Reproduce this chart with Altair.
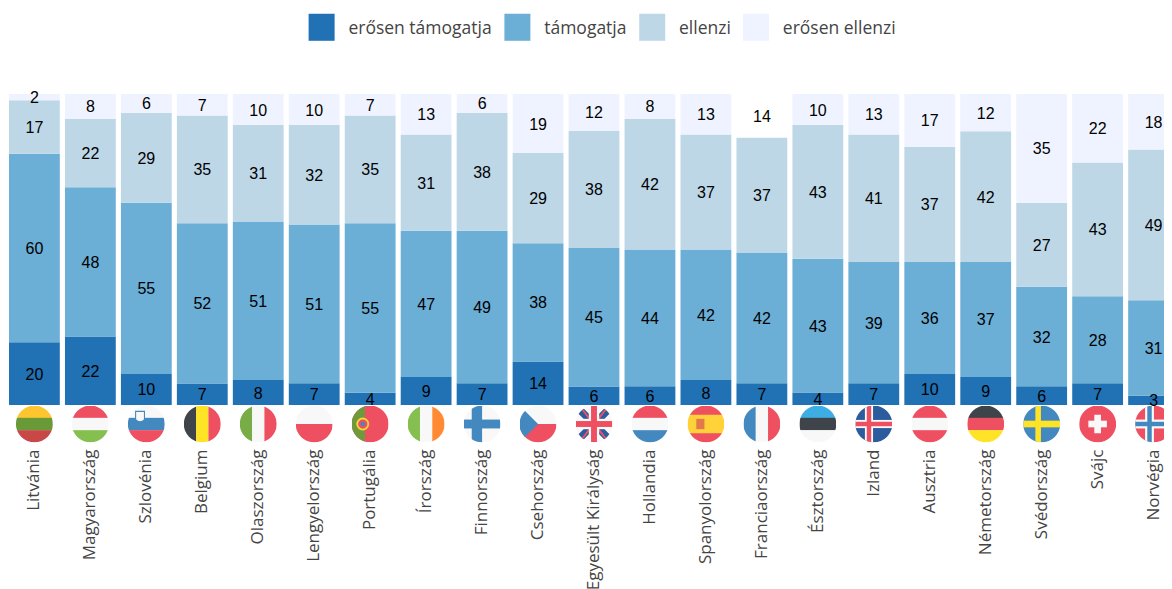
import base64
import altair as alt
import pandas as pd

orszagok = ["Litvánia", "Magyarország", "Szlovénia", "Belgium", "Olaszország", "Lengyelország", "Portugália",
            "Írország", "Finnország", "Csehország", "Egyesült Királyság", "Hollandia", "Spanyolország",
            "Franciaország", "Észtország", "Izland", "Ausztria", "Németország", "Svédország", "Svájc", "Norvégia"]
kategoriak = ["erősen támogatja", "támogatja", "ellenzi", "erősen ellenzi"]
erosen_tamogatja = [20, 22, 10, 7, 8, 7, 4, 9, 7, 14, 6, 6, 8, 7, 4, 7, 10, 9, 6, 7, 3]
tamogatja = [60, 48, 55, 52, 51, 51, 55, 47, 49, 38, 45, 44, 42, 42, 43, 39, 36, 37, 32, 28, 31]
ellenzi = [17, 22, 29, 35, 31, 32, 35, 31, 38, 29, 38, 42, 37, 37, 43, 41, 37, 42, 27, 43, 49]
erosen_ellenzi = [2, 8, 6, 7, 10, 10, 7, 13, 6, 19, 12, 8, 13, 14, 10, 13, 17, 12, 35, 22, 18]
szinek = ["#2171b5", "#6baed6", "#bdd7e7", "#eff3ff"]

R, W, G, B, Y, D = "#ef5061", "#f8f8f8", "#84bf4f", "#4389c0", "#ffe327", "#3f444a"


def sav_v(*c):
    h = 100 / len(c)
    return "".join(f'<rect x="0" y="{i*h}" width="100" height="{h+.5}" fill="{k}"/>' for i, k in enumerate(c))


def sav_f(*c):
    h = 100 / len(c)
    return "".join(f'<rect y="0" x="{i*h}" height="100" width="{h+.5}" fill="{k}"/>' for i, k in enumerate(c))


def kereszt(h, k, b=None, s=None, vx=27, vt=10, ht=10):
    o = f'<rect width="100" height="100" fill="{h}"/>'
    if b:
        o += f'<rect x="{vx+vt/2-s/2}" y="0" width="{s}" height="100" fill="{b}"/><rect x="0" y="{50-s/2}" width="100" height="{s}" fill="{b}"/>'
    o += f'<rect x="{vx}" y="0" width="{vt}" height="100" fill="{k}"/><rect x="0" y="{50-ht/2}" width="100" height="{ht}" fill="{k}"/>'
    return o


uk = ('<rect width="100" height="100" fill="#f8f8f8"/>'
      '<path d="M0,0L40,40M100,0L60,40M0,100L40,60M100,100L60,60" stroke="#2b5c9e" stroke-width="20"/>'
      '<path d="M10,0L45,45M90,0L55,45M10,100L45,55M90,100L55,55" stroke="#ef5061" stroke-width="5"/>'
      '<rect x="36" width="28" height="100" fill="#f8f8f8"/><rect y="36" width="100" height="28" fill="#f8f8f8"/>'
      '<rect x="42" width="16" height="100" fill="#ef5061"/><rect y="42" width="100" height="16" fill="#ef5061"/>')

zaszlok = {
    "Litvánia": sav_v("#fdc52f", "#6a9a38", "#c84848"),
    "Magyarország": sav_v(R, W, G),
    "Szlovénia": sav_v(W, B, R) + '<path d="M21,16h24v22q-12,12-24,0z" fill="#f8f8f8" stroke="#4389c0" stroke-width="3"/>',
    "Belgium": sav_f(D, Y, R),
    "Olaszország": sav_f("#78ac46", W, R),
    "Lengyelország": sav_v(W, R),
    "Portugália": '<rect width="100" height="100" fill="#ef5061"/><rect width="36" height="100" fill="#6f9a3c"/><circle cx="30" cy="50" r="15" fill="#ef5061" stroke="#ffd23a" stroke-width="5"/><circle cx="30" cy="50" r="6" fill="#4389c0"/>',
    "Írország": sav_f(G, W, "#ff8a33"),
    "Finnország": kereszt(W, B, vx=22, vt=28, ht=24),
    "Csehország": sav_v(W, R) + '<path d="M0,0L50,50L0,100Z" fill="#4389c0"/>',
    "Egyesült Királyság": uk,
    "Hollandia": sav_v(R, W, B),
    "Spanyolország": '<rect width="100" height="100" fill="#ffd23a"/><rect width="100" height="25" fill="#ef5061"/><rect y="75" width="100" height="25" fill="#ef5061"/><rect x="24" y="36" width="22" height="28" fill="#e2794a"/>',
    "Franciaország": sav_f(B, W, R),
    "Észtország": sav_v("#3eade3", D, W),
    "Izland": kereszt("#2b5c9e", R, W, 22, vx=31, vt=12, ht=12),
    "Ausztria": sav_v(R, W, R),
    "Németország": sav_v(D, R, Y),
    "Svédország": kereszt(B, Y, vx=33, vt=15, ht=18),
    "Svájc": '<rect width="100" height="100" fill="#ef5061"/><rect x="41" y="25" width="18" height="50" fill="#f8f8f8"/><rect x="25" y="41" width="50" height="18" fill="#f8f8f8"/>',
    "Norvégia": kereszt(R, B, W, 24, vx=33, vt=12, ht=12),
}


def kep(belso):
    svg = ('<svg xmlns="http://www.w3.org/2000/svg" width="100" height="100" viewBox="0 0 100 100">'
           '<clipPath id="c"><circle cx="50" cy="50" r="50"/></clipPath>'
           f'<g clip-path="url(#c)">{belso}</g></svg>')
    return "data:image/svg+xml;base64," + base64.b64encode(svg.encode()).decode()


sorok = []
for i, o in enumerate(orszagok):
    ertekek = [erosen_tamogatja[i], tamogatja[i], ellenzi[i], erosen_ellenzi[i]]
    for r, (k, v) in enumerate(zip(kategoriak, ertekek)):
        sorok.append({"orszag": o, "kategoria": k, "rend": r, "ertek": v})
df = pd.DataFrame(sorok)
zaszlo_df = pd.DataFrame({"orszag": orszagok, "kep": [kep(zaszlok[o]) for o in orszagok]})

H = 311
x_skala = alt.Scale(paddingInner=0.092, paddingOuter=0.018, range=[0, 1172])
x = alt.X("orszag:N", sort=orszagok, title=None, scale=x_skala,
          axis=alt.Axis(labelAngle=-90, labelFont="Open Sans", labelFontSize=17, labelColor="#444444",
                        labelPadding=44, labelLimit=400, domain=False, ticks=False, grid=False))
y_skala = alt.Scale(domain=[0, 1], nice=False, zero=False)

alap = alt.Chart(df).transform_stack(stack="ertek", as_=["y0", "y1"], groupby=["orszag"], offset="normalize",
                                     sort=[alt.SortField("rend", order="ascending")]).transform_calculate(
    kozep="(datum.y0 + datum.y1) / 2")

oszlopok = alap.mark_bar(strokeWidth=0).encode(
    x=x,
    y=alt.Y("y0:Q", scale=y_skala, axis=None, title=None),
    y2="y1:Q",
    color=alt.condition(
        "datum.orszag === 'Franciaország' && datum.kategoria === 'erősen ellenzi'",
        alt.value("#ffffff"),
        alt.Color("kategoria:N", sort=kategoriak,
                  scale=alt.Scale(domain=kategoriak, range=szinek),
                  legend=alt.Legend(title=None, orient="none", direction="horizontal", columns=4,
                                    legendX=300.6, legendY=-78, columnPadding=11.8,
                                    symbolType="M-1,-1.19H1V0.89H-1Z", symbolSize=676,
                                    symbolStrokeWidth=0, symbolOpacity=1, labelOffset=13.8,
                                    labelFont="Open Sans", labelFontSize=17.5, labelColor="#444444",
                                    labelLimit=300)),
    ),
)

feliratok = alap.mark_text(font="Liberation Sans", fontSize=16, color="#000000", baseline="middle", dy=1).encode(
    x=alt.X("orszag:N", sort=orszagok),
    y=alt.Y("kozep:Q", scale=y_skala),
    text="ertek:Q",
)

zaszlo = alt.Chart(zaszlo_df).mark_image(width=37, height=37).encode(
    x=alt.X("orszag:N", sort=orszagok),
    y=alt.value(H + 19),
    url="kep:N",
)

chart = alt.layer(oszlopok, zaszlo, feliratok).properties(
    width=1156, height=H,
    autosize=alt.AutoSizeParams(type="none"),
    padding={"left": 0, "top": 86, "right": 0, "bottom": 184},
    background="#ffffff",
).configure_view(stroke=None)

chart.save("out.html", embed_options={"renderer": "svg", "actions": False})
